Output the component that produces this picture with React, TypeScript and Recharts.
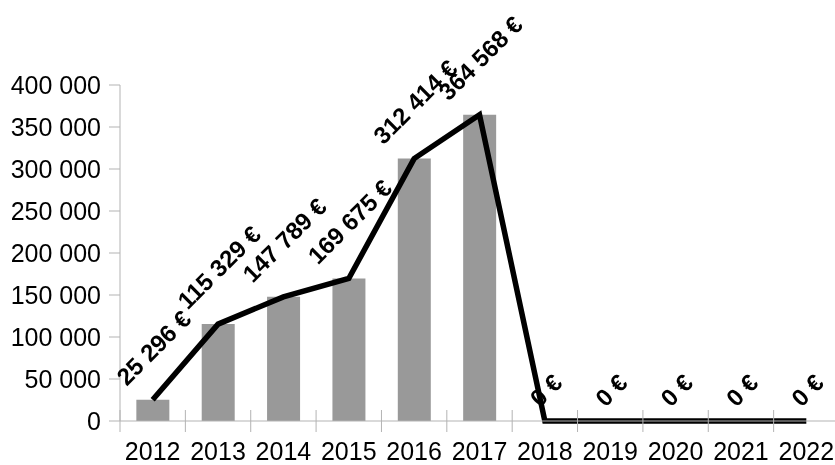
import { ComposedChart, Bar, Line, XAxis, YAxis } from "recharts";

const years = ["2012", "2013", "2014", "2015", "2016", "2017", "2018", "2019", "2020", "2021", "2022"];
const amounts = [25296, 115329, 147789, 169675, 312414, 364568, 0, 0, 0, 0, 0];
const yTicks = [0, 50000, 100000, 150000, 200000, 250000, 300000, 350000, 400000];

const data = years.map((year, i) => ({ year, amount: amounts[i] }));

const axisGray = "#b3b3b3";

const groupThousands = (v: number) => String(v).replace(/\B(?=(\d{3})+(?!\d))/g, " ");
const euro = (v: number) => `${groupThousands(v)} €`;

// rough width of a bold Liberation Sans string, in em
const emWidth = (s: string) =>
  s.split("").reduce((w, c) => w + (c === " " ? 0.278 : 0.556), 0);

const PointLabel = (props: any) => {
  const { x, y, value } = props;
  if (x == null || y == null) return null;
  const fs = 24;
  const text = euro(value);
  const len = emWidth(text) * fs;
  const lift = 13 + (len + 0.716 * fs) / (2 * Math.SQRT2);
  const cx = x + 1;
  const cy = y - lift;
  return (
    <text
      x={cx}
      y={cy}
      textAnchor="middle"
      dominantBaseline="central"
      fontSize={fs}
      fontWeight="bold"
      fill="#000"
      transform={`rotate(-45 ${cx} ${cy})`}
    >
      {text}
    </text>
  );
};

const YearTick = (props: any) => {
  const { x, y, payload } = props;
  const half = payload && typeof payload.offset === "number" && payload.offset > 0 ? payload.offset : 32.7;
  return (
    <g>
      <line x1={x - half} x2={x - half} y1={y - 11} y2={y + 11} stroke={axisGray} />
      <text x={x} y={y + 39} textAnchor="middle" fontSize={25} fill="#000">
        {payload.value}
      </text>
    </g>
  );
};

export default function App() {
  return (
    <div
      style={{
        position: "fixed",
        left: 0,
        top: 0,
        width: 835,
        height: 465,
        overflow: "hidden",
        fontFamily: "'Liberation Sans', Arial, sans-serif",
      }}
    >
      <div style={{ position: "absolute", left: 8, top: 8 }}>
        <ComposedChart
          width={840}
          height={457}
          data={data}
          margin={{ top: 77, right: 9, bottom: 0, left: 0 }}
          barCategoryGap="25%"
        >
          <XAxis
            dataKey="year"
            height={44}
            interval={0}
            tickLine={false}
            tickSize={0}
            tickMargin={0}
            stroke={axisGray}
            tick={<YearTick />}
          />
          <YAxis
            width={112}
            domain={[0, 400000]}
            ticks={yTicks}
            tickSize={11}
            tickMargin={8}
            stroke={axisGray}
            tick={{ fill: "#000", fontSize: 25 }}
            tickFormatter={groupThousands}
          />
          <Bar dataKey="amount" fill="#999999" isAnimationActive={false} />
          <Line
            type="linear"
            dataKey="amount"
            stroke="#000"
            strokeWidth={5.5}
            dot={false}
            activeDot={false}
            label={<PointLabel />}
            isAnimationActive={false}
          />
        </ComposedChart>
      </div>
    </div>
  );
}
